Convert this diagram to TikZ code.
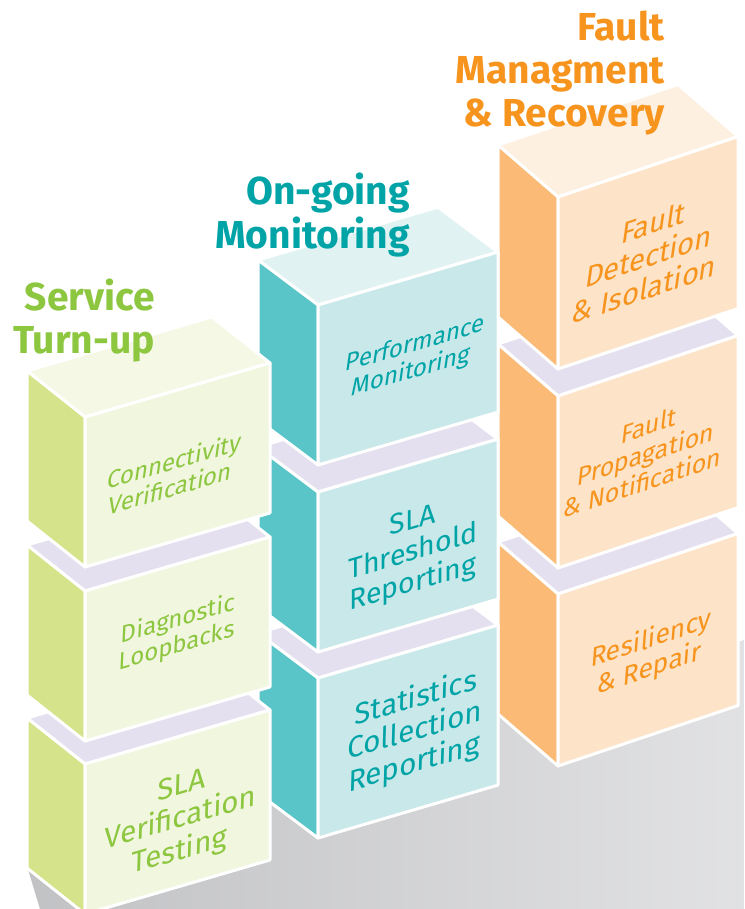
\documentclass[tikz,border=0pt]{standalone}
\usepackage{fontspec}
\setmainfont{Fira Sans}
\usetikzlibrary{calc}
\definecolor{gTop}{HTML}{F4F8E5}
\definecolor{gLeft}{HTML}{D5E38A}
\definecolor{gFront}{HTML}{F1F6DF}
\definecolor{gText}{HTML}{8DC63F}
\definecolor{tTop}{HTML}{E0F2F2}
\definecolor{tLeft}{HTML}{5AC5C8}
\definecolor{tFront}{HTML}{C8E8E9}
\definecolor{tText}{HTML}{00A4A7}
\definecolor{oTop}{HTML}{FEF0E0}
\definecolor{oLeft}{HTML}{FBBA76}
\definecolor{oFront}{HTML}{FDE3C7}
\definecolor{oText}{HTML}{F7941D}
\definecolor{lav}{HTML}{E4E0EF}
\definecolor{shDark}{HTML}{A6A7AB}
\tikzset{
  face/.style={draw=white, line width=3pt, line join=round},
  boxtext/.style 2 args={align=center, yslant=#1, xslant=#2, transform shape, inner sep=0pt},
  title/.style={anchor=base east, inner sep=0pt, font=\fontsize{39}{43}\selectfont\bfseries},
}
% #1 name, #2 top y (front-left), #3 top face colour, #4 font size, #5 text, #6 text offset, #7 italic slant
\newcommand{\blk}[7]{%
  \pgfmathsetmacro\kBy{#2-\kS*(\kFR-\kFL)}%
  \pgfmathsetmacro\kBS{#4*1.1}%
  \coordinate (#1A) at (\kFL,#2);
  \coordinate (#1B) at (\kFR,\kBy);
  \coordinate (#1C) at (\kFR,\kBy+\kH);
  \coordinate (#1D) at (\kFL,#2+\kH);
  \coordinate (#1a) at (\kFL-\kDL,#2-\kDU);
  \coordinate (#1b) at (\kFR-\kDL,\kBy-\kDU);
  \coordinate (#1d) at (\kFL-\kDL,#2+\kH-\kDU);
  \path[face, fill=#3] (#1A) -- (#1B) -- (#1b) -- (#1a) -- cycle;
  \path[face, fill=\kL] (#1a) -- (#1A) -- (#1D) -- (#1d) -- cycle;
  \path[face, fill=\kF] (#1A) -- (#1B) -- (#1C) -- (#1D) -- cycle;
  \node[boxtext={\kS}{#7}, text=\kT, font=\fontsize{#4pt}{\kBS pt}\selectfont] (#1t)
    at ($(#1A)!0.5!(#1C)+(#6)$) {#5};
}
\begin{document}
\begin{tikzpicture}[x=1pt,y=-1pt]
\useasboundingbox (0,0) rectangle (744,909);
\fill[white] (0,0) rectangle (744,909);
\clip (0,0) rectangle (744,909);
% floor shadow
\begin{scope}
  \clip (27,866) -- (744,640) -- (744,909) -- (40,909) -- cycle;
  \begin{scope}[shift={(300,850)}, rotate=-50]
    \shade[left color=shDark, right color=white] (-175,-1000) rectangle (525,1000);
  \end{scope}
\end{scope}
% ---------- orange column ----------
\def\kFL{558}\def\kFR{738}\def\kS{0.336}\def\kH{172}\def\kDL{60}\def\kDU{52}%
\def\kL{oLeft}\def\kF{oFront}\def\kT{oText}%
\blk{o3}{594}{lav}{26.5}{Resiliency\\\& Repair}{2,5}{0.08}
\blk{o2}{396}{lav}{25}{Fault\\Propagation\\\& Notification}{-2,2}{0.12}
\blk{o1}{197}{oTop}{29}{Fault\\Detection\\\& Isolation}{1,3}{0.15}
% ---------- teal column ----------
\def\kFL{318}\def\kFR{498}\def\kS{0.294}\def\kH{160}\def\kDL{60}\def\kDU{45}%
\def\kL{tLeft}\def\kF{tFront}\def\kT{tText}%
\blk{t3}{678}{lav}{29.5}{Statistics\\Collection\\Reporting}{7,0}{0.03}
\blk{t2}{492}{lav}{28.5}{SLA\\Threshold\\Reporting}{5,8}{0}
\blk{t1}{305}{tTop}{24}{Performance\\Monitoring}{5,0}{0.15}
% ---------- green column ----------
\def\kFL{85}\def\kFR{270}\def\kS{0.292}\def\kH{150}\def\kDL{58}\def\kDU{46}%
\def\kL{gLeft}\def\kF{gFront}\def\kT{gText}%
\blk{g3}{764}{lav}{29.5}{SLA\\Verification\\Testing}{3,8}{0.03}
\blk{g2}{591}{lav}{24}{Diagnostic\\Loopbacks}{0,-6}{0.05}
\blk{g1}{417}{gTop}{24}{Connectivity\\Verification}{-5,9}{0.15}
% ---------- titles ----------
\node[title, text=gText] (s1) at (155,310) {Service};
\node[title, text=gText] (s2) at (155,353) {Turn-up};
\node[title, text=tText] (m1) at (410,205) {On-going};
\node[title, text=tText] (m2) at (410,248) {Monitoring};
\node[title, text=oText] (f1) at (665,41) {Fault};
\node[title, text=oText] (f2) at (665,84) {Managment};
\node[title, text=oText] (f3) at (665,127) {\& Recovery};
\end{tikzpicture}
\end{document}
